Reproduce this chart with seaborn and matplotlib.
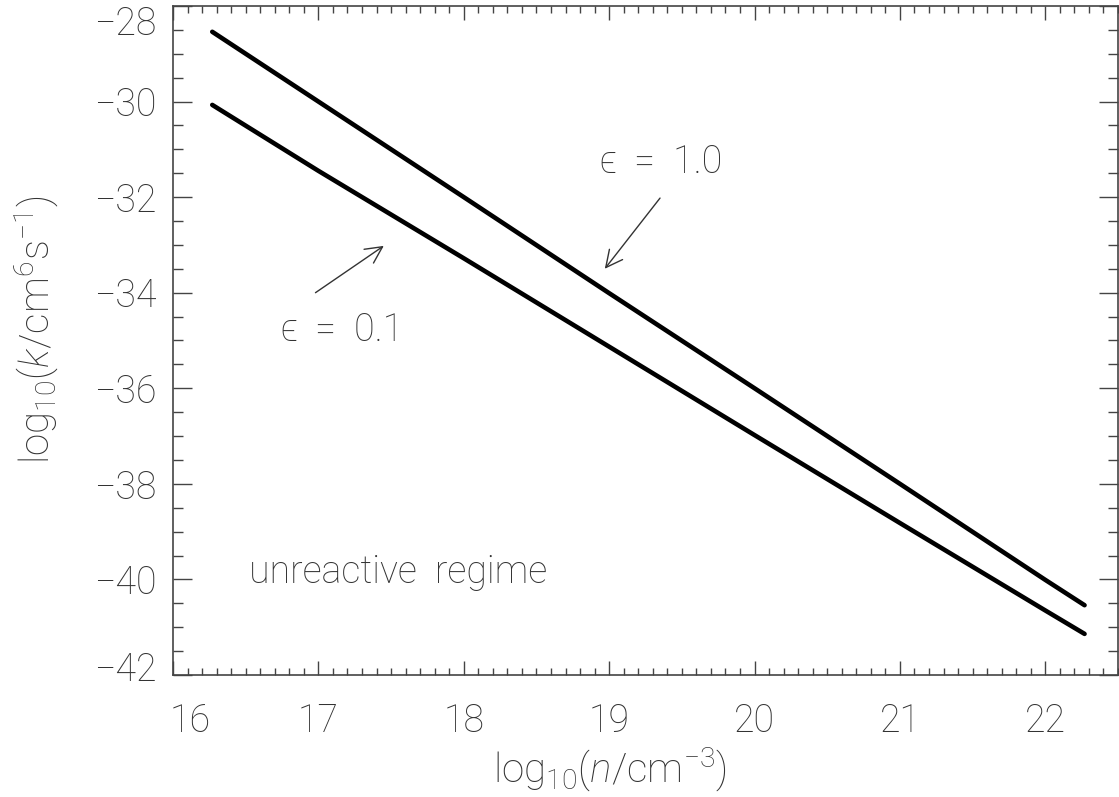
import numpy as np
import pandas as pd
import matplotlib
matplotlib.use("Agg")
import matplotlib.pyplot as plt
from matplotlib.ticker import MultipleLocator
from matplotlib.transforms import ScaledTranslation
import seaborn as sns

# values
log_n = [16.27, 17.0, 18.0, 19.0, 20.0, 21.0, 22.0, 22.27]
log_k_eps10 = [-28.54, -30.0, -32.0, -34.01, -36.0, -38.0, -40.01, -40.54]
log_k_eps01 = [-30.07, -31.45, -33.28, -35.13, -36.98, -38.82, -40.65, -41.14]

x_ticks = [16, 17, 18, 19, 20, 21, 22]
y_ticks = [-42, -40, -38, -36, -34, -32, -30, -28]

sns.set_style("ticks")
plt.rcParams["font.family"] = ["Roboto", "DejaVu Sans"]
plt.rcParams["font.weight"] = "light"
plt.rcParams["axes.labelweight"] = "light"
plt.rcParams["mathtext.fontset"] = "custom"
plt.rcParams["mathtext.rm"] = "Roboto:light"
plt.rcParams["mathtext.it"] = "Roboto:italic:light"

fig = plt.figure(figsize=(11.19, 7.97), dpi=100)
ax = fig.add_axes([0.1546, 0.1531, 0.8445, 0.8394])

df = pd.DataFrame({
    "n": log_n + log_n,
    "k": log_k_eps10 + log_k_eps01,
    "eps": ["1.0"] * len(log_n) + ["0.1"] * len(log_n),
})
sns.lineplot(data=df, x="n", y="k", hue="eps", palette=["black", "black"],
             linewidth=3.3, legend=False, ax=ax, sort=False)

ax.set_xlim(16, 22.5)
ax.set_ylim(-42, -28)
ax.set_xticks(x_ticks)
ax.set_yticks(y_ticks)
ax.set_xticklabels([str(t) for t in x_ticks])
ax.set_yticklabels(["\u2212" + str(abs(t)) for t in y_ticks])
ax.xaxis.set_minor_locator(MultipleLocator(0.1))
ax.yaxis.set_minor_locator(MultipleLocator(0.5))

gray = "#333333"
ax.tick_params(axis="both", which="both", direction="in", top=True, right=True,
               colors="#444444", labelcolor=gray, labelsize=27, width=1.0)
ax.tick_params(axis="x", which="major", length=10, pad=20)
ax.tick_params(axis="x", which="minor", length=5)
ax.tick_params(axis="y", which="major", length=14, pad=12)
ax.tick_params(axis="y", which="minor", length=7)
for s in ax.spines.values():
    s.set_color("#444444")
    s.set_linewidth(1.2)

# end labels sit inside the axis span, as in the reference
ylabs = ax.get_yticklabels()
ylabs[-1].set_transform(ylabs[-1].get_transform() + ScaledTranslation(0, -14 / 100, fig.dpi_scale_trans))
ylabs[0].set_transform(ylabs[0].get_transform() + ScaledTranslation(0, 9 / 100, fig.dpi_scale_trans))
xlabs = ax.get_xticklabels()
xlabs[0].set_transform(xlabs[0].get_transform() + ScaledTranslation(17 / 100, 0, fig.dpi_scale_trans))

ax.set_xlabel(r"log$_{10}$($n$/cm$^{-3}$)", fontsize=29, color=gray, fontweight="light")
ax.set_ylabel(r"log$_{10}$($k$/cm$^{6}$s$^{-1}$)", fontsize=29, color=gray, fontweight="light")
ax.xaxis.set_label_coords(0.462, -0.142)
ax.yaxis.set_label_coords(-0.144, 0.516)
ax.xaxis.label.set_va("center")
ax.yaxis.label.set_va("center")

txt = dict(fontsize=27, color=gray)
arrow = dict(arrowstyle="->", color=gray, lw=1.0, shrinkA=0, shrinkB=0, mutation_scale=30)
ax.text(19.36, -31.27, "\u03f5  =  1.0", ha="center", va="center", **txt)
ax.annotate("", xy=(18.97, -33.50), xytext=(19.35, -32.02), arrowprops=arrow)
ax.text(17.16, -34.78, "\u03f5  =  0.1", ha="center", va="center", **txt)
ax.annotate("", xy=(17.45, -33.02), xytext=(16.98, -34.0), arrowprops=arrow)
ax.text(16.52, -39.84, "unreactive  regime", ha="left", va="center", **txt)

fig.savefig("out.png", dpi=100)
